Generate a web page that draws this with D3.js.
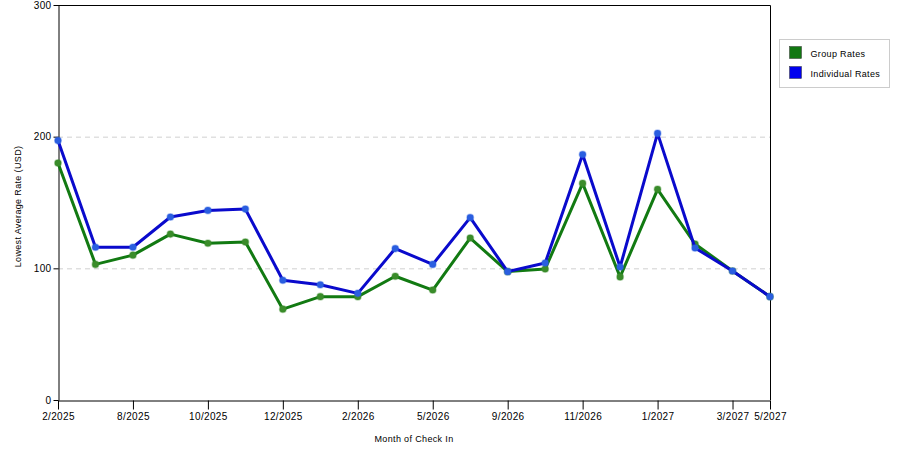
<!DOCTYPE html>
<html>
<head>
<meta charset="utf-8">
<script src="https://cdn.jsdelivr.net/npm/d3@7"></script>
<style>
  body { margin: 0; background: #fff; }
  svg { font-family: "Liberation Sans", Arial, sans-serif; font-size: 9px; letter-spacing: 0.35px; }
  .grid line { stroke: #d0d0d0; stroke-dasharray: 5,4; }
  .axis path, .axis line { stroke: #000; }
</style>
</head>
<body>
<svg id="chart" width="900" height="450"></svg>
<script>
// months in the order they appear on the chart
const months = ["2/2025", "6/2025", "8/2025", "9/2025", "10/2025", "11/2025", "12/2025", "1/2026",
  "2/2026", "4/2026", "5/2026", "7/2026", "9/2026", "10/2026", "11/2026", "12/2026",
  "1/2027", "2/2027", "3/2027", "5/2027"];
const tickMonths = ["2/2025", "8/2025", "10/2025", "12/2025", "2/2026", "5/2026", "9/2026",
  "11/2026", "1/2027", "3/2027", "5/2027"];
const groupRates = [180, 103, 110, 126, 119, 120, 69, 78.5, 78.5, 94, 83.5, 123, 97.5, 99.5,
  164.5, 93.5, 160, 118.5, 98, 78.5];
const individualRates = [197, 116, 116, 139, 144, 145, 91, 87.5, 81, 115, 103, 138.5, 97.5, 104,
  186.5, 101, 202.5, 115.5, 98, 78.5];
const yTicks = [0, 100, 200, 300];

const svg = d3.select("#chart");
const plotLeft = 58, plotRight = 770, plotTop = 5, plotBottom = 400;

const x = d3.scalePoint().domain(months).range([plotLeft, plotRight]);
const y = d3.scaleLinear().domain([0, 300]).range([plotBottom, plotTop]);

// dashed grid
svg.append("g").attr("class", "grid")
  .selectAll("line").data([100, 200]).enter().append("line")
  .attr("x1", plotLeft).attr("x2", plotRight)
  .attr("y1", d => y(d) + 0.5).attr("y2", d => y(d) + 0.5);

// frame top + right
svg.append("path")
  .attr("d", `M${plotLeft},${y(300) + 0.5}H${plotRight + 0.5}V${plotBottom}`)
  .attr("fill", "none").attr("stroke", "#000");

svg.append("g").attr("class", "axis")
  .attr("transform", `translate(${plotLeft + 0.5},0)`)
  .call(d3.axisLeft(y).tickValues(yTicks).tickSize(5).tickSizeOuter(0).tickPadding(2))
  .call(g => g.selectAll("text").attr("font-family", null).attr("font-size", null).attr("fill", "#000"));

svg.append("g").attr("class", "axis")
  .attr("transform", `translate(0,${plotBottom + 0.5})`)
  .call(d3.axisBottom(x).tickValues(tickMonths).tickSize(9).tickSizeOuter(0).tickPadding(3))
  .call(g => g.selectAll("text").attr("font-family", null).attr("font-size", null).attr("fill", "#000"));

svg.append("text")
  .attr("x", 414).attr("y", 442)
  .attr("text-anchor", "middle")
  .text("Month of Check In");

svg.append("text")
  .attr("transform", `translate(21,${(plotTop + plotBottom) / 2 + 4}) rotate(-90)`)
  .attr("text-anchor", "middle")
  .text("Lowest Average Rate (USD)");

const series = [
  { name: "Group Rates", values: groupRates, line: "#127a12", dot: "#3a8c2a", swatch: "#117711" },
  { name: "Individual Rates", values: individualRates, line: "#0a0acc", dot: "#2a5ee0", swatch: "#0000ee" }
];

const line = d3.line().x((d, i) => x(months[i])).y(d => y(d));

series.forEach(s => {
  svg.append("path")
    .attr("d", line(s.values))
    .attr("fill", "none")
    .attr("stroke", s.line)
    .attr("stroke-width", 3)
    .attr("stroke-linejoin", "round");
  svg.append("g").selectAll("circle").data(s.values).enter().append("circle")
    .attr("cx", (d, i) => x(months[i]))
    .attr("cy", d => y(d))
    .attr("r", 3.3)
    .attr("fill", s.dot)
    .attr("stroke", s.dot)
    .attr("stroke-opacity", 0.35)
    .attr("stroke-width", 1.5);
});

// legend
const legend = svg.append("g").attr("transform", "translate(779.5,39.5)");
legend.append("rect")
  .attr("width", 110).attr("height", 48)
  .attr("fill", "#fff").attr("stroke", "#ccc");
series.forEach((s, i) => {
  legend.append("rect")
    .attr("x", 10).attr("y", 7 + i * 20)
    .attr("width", 12).attr("height", 12)
    .attr("fill", s.swatch).attr("stroke", "#333").attr("stroke-width", 0.5);
  legend.append("text")
    .attr("x", 31).attr("y", 17 + i * 20)
    .text(s.name);
});
</script>
</body>
</html>
